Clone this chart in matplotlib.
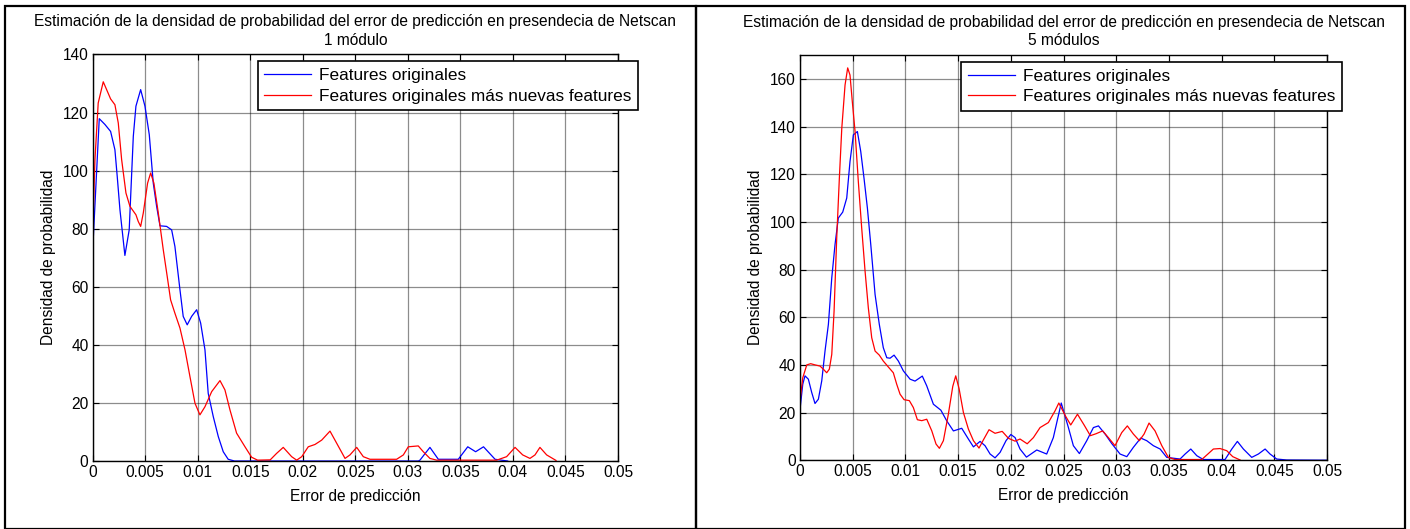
import matplotlib

matplotlib.use("Agg")
import matplotlib.pyplot as plt
from matplotlib.patches import Rectangle

plt.rcParams["font.family"] = ["Liberation Sans", "DejaVu Sans"]

# ---- 1 módulo ----
x1_orig = [0.0, 0.00063, 0.00117, 0.00171, 0.00212, 0.00234, 0.0026, 0.00307, 0.00348,
           0.00387, 0.00412, 0.00457, 0.00498, 0.00539, 0.00577, 0.00609, 0.00641, 0.00704,
           0.00752, 0.00783, 0.00831, 0.00862, 0.009, 0.00942, 0.0099, 0.01028, 0.01069,
           0.011, 0.01148, 0.01196, 0.01243, 0.0129, 0.0135, 0.031, 0.03115, 0.0321, 0.0329,
           0.0348, 0.0357, 0.03645, 0.0372, 0.0383, 0.0395]
y1_orig = [72.2, 117.9, 115.9, 113.5, 107.2, 98.0, 86.5, 70.8, 79.6,
           111.8, 122.2, 127.9, 122.2, 112.4, 95.7, 87.7, 81.0, 80.8,
           79.6, 73.9, 59.0, 49.8, 46.9, 49.8, 52.1, 47.5, 38.3,
           23.3, 15.3, 8.4, 3.2, 0.6, 0.0, 0.0, 0.3, 4.7, 0.6,
           0.6, 4.9, 3.2, 4.9, 0.6, 0.0]

x1_new = [0.0, 0.00022, 0.00053, 0.00101, 0.00133, 0.00171, 0.00212, 0.00244, 0.00276,
          0.00317, 0.00355, 0.00412, 0.00434, 0.00457, 0.00482, 0.00523, 0.00552, 0.00583,
          0.00625, 0.00672, 0.0071, 0.00742, 0.00783, 0.00831, 0.00879, 0.00926, 0.00974,
          0.01021, 0.01069, 0.01133, 0.01212, 0.01259, 0.01307, 0.0137, 0.0145, 0.01513,
          0.0157, 0.0169, 0.0175, 0.01814, 0.01894, 0.01942, 0.0199, 0.02052, 0.02116,
          0.0218, 0.02259, 0.02323, 0.02402, 0.02449, 0.02513, 0.02576, 0.02639, 0.02893,
          0.02957, 0.03004, 0.03099, 0.03147, 0.0321, 0.03274, 0.03845, 0.0394, 0.0402,
          0.04093, 0.04162, 0.0421, 0.04257, 0.04321, 0.0441]
y1_new = [78.5, 103.8, 123.3, 130.6, 127.9, 124.7, 122.7, 116.4, 103.8,
          92.3, 87.7, 84.8, 82.5, 80.8, 85.4, 95.7, 99.2, 95.7,
          85.4, 72.8, 63.5, 55.5, 50.9, 45.8, 38.3, 29.1, 19.9,
          15.9, 18.7, 23.9, 27.7, 24.5, 17.6, 9.6, 4.9, 1.3,
          0.3, 0.4, 2.6, 4.7, 1.5, 0.3, 1.5, 4.9, 5.7,
          7.2, 10.3, 6.1, 0.9, 2.1, 4.7, 1.5, 0.6, 0.6,
          2.1, 4.9, 5.2, 3.2, 0.9, 0.3, 0.3, 1.5, 4.7,
          2.1, 0.9, 2.1, 4.7, 2.1, 0.2]

# ---- 5 módulos ----
x5_orig = [0.0, 0.00026, 0.00047, 0.00079, 0.00111, 0.00142, 0.00174, 0.00206, 0.00237,
           0.00269, 0.00301, 0.00332, 0.00363, 0.00405, 0.00443, 0.00474, 0.00506, 0.00544,
           0.00576, 0.00607, 0.00639, 0.00671, 0.00712, 0.00752, 0.0079, 0.00823, 0.00854,
           0.00892, 0.00933, 0.0098, 0.01044, 0.01091, 0.01160, 0.01202, 0.01265, 0.01336,
           0.01392, 0.01455, 0.01534, 0.01597, 0.01645, 0.01708, 0.01755, 0.01803, 0.0185,
           0.01898, 0.01954, 0.02, 0.0204, 0.02087, 0.02148, 0.02246, 0.0234, 0.02403,
           0.02478, 0.02546, 0.02593, 0.0265, 0.0272, 0.02783, 0.02831, 0.02894, 0.02957,
           0.03036, 0.031, 0.03162, 0.03232, 0.03289, 0.03352, 0.03416, 0.03479, 0.03605,
           0.03653, 0.03707, 0.03764, 0.03826, 0.04032, 0.04096, 0.04149, 0.04206, 0.04285,
           0.04348, 0.04412, 0.04459, 0.04522, 0.04617, 0.05]
y5_orig = [21.4, 31.9, 35.4, 34.0, 28.4, 23.8, 25.6, 33.3, 45.8,
           57.0, 76.5, 90.5, 101.6, 104.1, 110.0, 125.3, 136.5, 137.9,
           129.5, 118.3, 105.8, 90.5, 69.5, 57.0, 47.2, 43.0, 42.8,
           44.1, 41.6, 37.5, 34.0, 33.2, 35.3, 31.2, 23.5, 21.0,
           16.5, 12.3, 13.4, 8.9, 5.6, 7.9, 6.1, 2.6, 1.0,
           3.3, 8.2, 10.8, 9.5, 4.7, 1.3, 4.3, 2.6, 9.5,
           24.0, 13.7, 6.1, 2.8, 8.2, 13.7, 14.4, 11.0, 7.0,
           2.6, 1.5, 5.4, 9.3, 8.2, 6.1, 4.7, 1.2, 0.5,
           2.6, 4.7, 1.9, 0.3, 0.3, 4.7, 7.9, 4.7, 1.2,
           2.6, 4.7, 2.6, 0.5, 0.1, 0.0]

x5_new = [0.0, 0.00026, 0.00064, 0.00101, 0.00142, 0.0019, 0.00221, 0.00253, 0.00278,
          0.00301, 0.00323, 0.00348, 0.00373, 0.00396, 0.00427, 0.00452, 0.00474, 0.00496,
          0.00522, 0.00553, 0.00585, 0.00617, 0.00648, 0.0068, 0.00712, 0.00752, 0.0079,
          0.00838, 0.00885, 0.00917, 0.00949, 0.00987, 0.01037, 0.01075, 0.01113, 0.01155,
          0.01202, 0.0125, 0.0129, 0.01322, 0.0136, 0.01407, 0.01449, 0.01477, 0.01509,
          0.0155, 0.01597, 0.01645, 0.01698, 0.01739, 0.01793, 0.0185, 0.01918, 0.01977,
          0.0204, 0.02087, 0.02155, 0.02214, 0.02277, 0.02356, 0.02419, 0.02455, 0.02519,
          0.02568, 0.02632, 0.02696, 0.02754, 0.02807, 0.02871, 0.02925, 0.02988, 0.03052,
          0.03105, 0.03162, 0.03219, 0.03264, 0.03311, 0.03368, 0.03432, 0.03494, 0.03558,
          0.03811, 0.03874, 0.03921, 0.03985, 0.04048, 0.04105, 0.04175]
y5_new = [24.9, 34.6, 40.0, 40.5, 40.0, 39.5, 38.2, 36.7, 38.2,
          44.4, 62.6, 93.2, 118.3, 139.2, 157.4, 164.6, 161.6, 150.4,
          137.9, 116.9, 97.4, 79.3, 63.9, 51.4, 45.8, 44.1, 41.6,
          39.1, 36.7, 31.9, 27.7, 25.4, 25.0, 22.1, 17.0, 16.6,
          17.2, 12.3, 6.8, 5.0, 8.2, 19.3, 31.0, 35.4, 30.0,
          20.0, 13.1, 8.2, 5.1, 8.5, 12.8, 11.3, 12.1, 9.2,
          8.0, 8.9, 6.9, 9.5, 13.7, 15.8, 20.7, 24.0, 18.5,
          14.8, 19.3, 14.7, 10.3, 11.1, 12.3, 9.5, 6.1, 11.6,
          14.4, 11.0, 8.2, 11.0, 15.6, 12.3, 6.1, 1.2, 0.3,
          0.3, 2.8, 4.7, 4.9, 4.0, 1.5, 0.1]

TITLE = "Estimación de la densidad de probabilidad del error de predicción en presendecia de Netscan"
LABELS = ["Features originales", "Features originales más nuevas features"]
XTICKS = [0, 0.005, 0.01, 0.015, 0.02, 0.025, 0.03, 0.035, 0.04, 0.045, 0.05]
XTICKLABELS = ["0", "0.005", "0.01", "0.015", "0.02", "0.025", "0.03", "0.035", "0.04", "0.045", "0.05"]

panels = [
    dict(sub="1 módulo", orig=(x1_orig, y1_orig), new=(x1_new, y1_new),
         ylim=140, yticks=range(0, 141, 20), rect=[0.0657, 0.1285, 0.3726, 0.7685],
         leg_anchor=(1.038, 0.983)),
    dict(sub="5 módulos", orig=(x5_orig, y5_orig), new=(x5_new, y5_new),
         ylim=170, yticks=range(0, 161, 20), rect=[0.5674, 0.1300, 0.3738, 0.7660],
         leg_anchor=(1.028, 0.983)),
]

fig = plt.figure(figsize=(14.1, 5.29), dpi=100)
fs = 11.2

# frames around each panel
for x0, x1 in [(5, 696), (696, 1405)]:
    fig.add_artist(Rectangle((x0 / 1410, 0.0), (x1 - x0) / 1410, (523 - 0) / 529,
                             transform=fig.transFigure, fill=False, edgecolor="black", lw=1.6))

for p in panels:
    ax = fig.add_axes(p["rect"])
    ax.plot(*p["orig"], color="blue", lw=0.9, label=LABELS[0])
    ax.plot(*p["new"], color="red", lw=0.9, label=LABELS[1])
    ax.set_xlim(0, 0.05)
    ax.set_ylim(0, p["ylim"])
    ax.set_xticks(XTICKS)
    ax.set_xticklabels(XTICKLABELS)
    ax.set_yticks(list(p["yticks"]))
    ax.tick_params(direction="in", top=True, right=True, labelsize=fs, length=4, width=0.8, pad=3)
    ax.grid(True, color="black", alpha=0.45, lw=0.9)
    for s in ax.spines.values():
        s.set_linewidth(1.0)
    ax.set_xlabel("Error de predicción", fontsize=fs, labelpad=6)
    ax.set_ylabel("Densidad de probabilidad", fontsize=fs, labelpad=5)
    ax.set_title(TITLE + "\n" + p["sub"], fontsize=fs, pad=7, linespacing=1.3)
    leg = ax.legend(loc="upper right", bbox_to_anchor=p["leg_anchor"], fontsize=12.4,
                    frameon=True, fancybox=False, edgecolor="black", framealpha=1,
                    borderaxespad=0, handlelength=2.7, handletextpad=0.45,
                    borderpad=0.4, labelspacing=0.3)
    leg.get_frame().set_linewidth(1.2)

fig.savefig("out.png", dpi=100)
